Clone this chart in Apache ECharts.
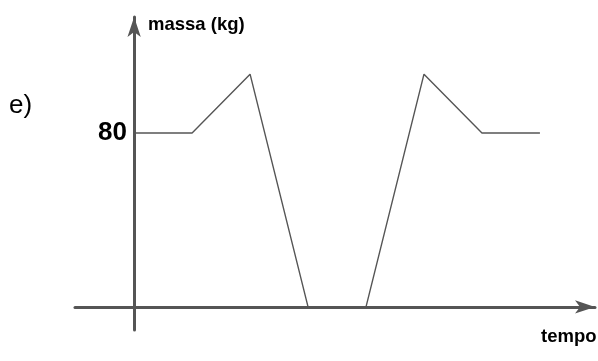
<!DOCTYPE html>
<html>
<head>
<meta charset="utf-8">
<script src="https://cdn.jsdelivr.net/npm/echarts@6/dist/echarts.min.js"></script>
<style>html,body{margin:0;padding:0;background:#fff}#c{width:598px;height:361px}</style>
</head>
<body>
<div id="c"></div>
<script>
const tempo = [0, 1, 2, 3, 4, 5, 6, 7];
const massa = [80, 80, 107, 0, 0, 107, 80, 80];
const yTicks = [80];
const yName = 'massa (kg)';
const xName = 'tempo';
const panelLabel = 'e)';

const chart = echarts.init(document.getElementById('c'), null, {renderer: 'canvas'});
const font = 'Arial, "Liberation Sans", Helvetica, sans-serif';
chart.setOption({
  animation: false,
  grid: {left: 75, right: 3, top: 17, bottom: 31, containLabel: false},
  xAxis: {
    type: 'value', min: -1.02, max: 7.95,
    axisLine: {onZero: true, lineStyle: {color: '#555', width: 3}, symbol: ['none', 'arrow'], symbolSize: [10, 20]},
    axisTick: {show: false}, axisLabel: {show: false}, splitLine: {show: false}
  },
  yAxis: {
    type: 'value', min: -10.6, max: 133.3,
    axisLine: {onZero: true, lineStyle: {color: '#555', width: 3}, symbol: ['none', 'arrow'], symbolSize: [10, 20]},
    axisTick: {show: false},
    axisLabel: {customValues: yTicks, fontFamily: font, fontWeight: 'bold', fontSize: 26, color: '#000', margin: -52},
    splitLine: {show: false}
  },
  graphic: [
    {type: 'text', left: 148, top: 15, style: {text: yName, fontFamily: font, fontWeight: 'bold', fontSize: 18.5, fill: '#000'}},
    {type: 'text', left: 541, top: 327, style: {text: xName, fontFamily: font, fontWeight: 'bold', fontSize: 18.5, fill: '#000'}},
    {type: 'text', left: 9, top: 93, style: {text: panelLabel, fontFamily: font, fontSize: 26, fill: '#000'}}
  ],
  series: [{
    type: 'line', data: tempo.map((t, i) => [t, massa[i]]),
    showSymbol: false, lineStyle: {color: '#555', width: 1.4}
  }]
});
</script>
</body>
</html>
